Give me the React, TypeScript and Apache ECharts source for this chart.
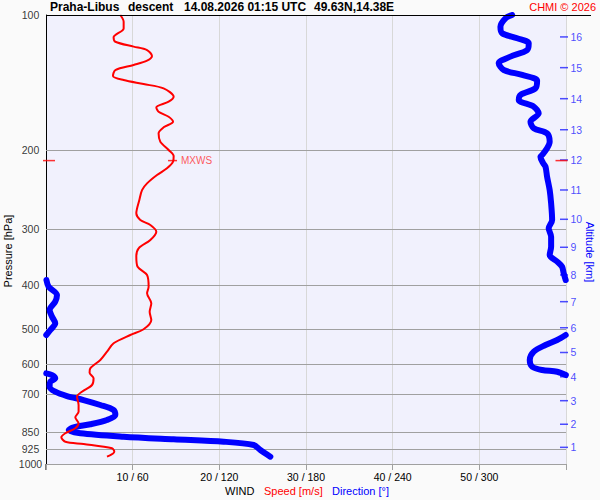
import { useEffect, useRef } from 'react'
import * as echarts from 'echarts'

// pressure levels drawn as horizontal lines [hPa]
const pressureLevels = [100, 200, 300, 400, 500, 600, 700, 850, 925, 1000]

// altitude scale on the right (km) and the pressure at which each tick sits
const altitudeKm = [16, 15, 14, 13, 12, 11, 10, 9, 8, 7, 6, 5, 4, 3, 2, 1]
const altitudePressure = [111.9, 131.0, 153.6, 180.1, 210.3, 245.3, 285.1, 329.1, 379.3, 435.0, 497.2, 564.5, 639.3, 722.8, 815.6, 918.1]

// wind speed profile [m/s] vs pressure [hPa]
const speedPressure = [
  100, 103.5, 107.1, 112.1, 114.7, 117.6, 119.7, 123.4, 126.4, 129.2, 132.6, 136.7, 139.6, 142.5, 145.7,
  152.1, 156.0, 160.6, 164.2, 168.5, 172.9, 177.9, 183.5, 191.5, 199.8, 206.1, 212.2, 219.5, 227.2, 237.1,
  245.4, 258.2, 276.5, 286.1, 293.6, 303.9, 317.1, 330.8, 345.4, 363.6, 379.4, 402.9, 416.8, 438.7, 458.0,
  477.9, 501.2, 516.0, 538.5, 562.2, 586.7, 612.2, 626.1, 644.3, 666.9, 690.2, 708.1, 738.9, 764.7, 787.0,
  811.6, 832.6, 854.2, 872.0, 891.9, 902.6, 922.6, 938.8, 963.2
]
const speedValues = [
  8.57, 8.96, 8.96, 7.8, 8.0, 10.11, 11.66, 12.23, 11.66, 10.11, 8.0, 7.73, 8.96, 11.26, 13.57,
  14.73, 14.15, 12.73, 12.99, 14.15, 14.66, 13.57, 12.99, 13.19, 14.15, 14.73, 14.66, 13.96, 12.81, 11.66,
  11.08, 10.77, 10.42, 10.88, 12.04, 12.73, 12.04, 10.69, 10.42, 10.57, 11.66, 11.84, 11.66, 12.15, 11.96,
  12.15, 11.26, 9.73, 7.8, 7.04, 6.27, 5.11, 5.03, 5.49, 5.31, 4.15, 3.58, 3.76, 3.76, 3.38,
  3.76, 3.38, 2.23, 1.77, 2.23, 4.34, 7.62, 7.88, 7.04
]

// wind direction profile [deg] vs pressure [hPa]; null = wrap 360 -> 0
const dirPressure = [
  100, 101.7, 106.2, 109.8, 112.7, 115.6, 119.7, 123.8, 128.1, 132.6, 136.0, 140.1, 145.7, 150.7, 154.6,
  160.0, 165.6, 172.9, 178.8, 183.5, 191.5, 198.1, 205.0, 206.8, 213.9, 217.7, 229.2, 245.4, 262.7, 286.1,
  298.6, 311.7, 328.1, 342.3, 354.3, 363.6, 376.1, 389.3, null,
  389.3, 402.9, 420.4, 435.0, 454.0, 469.9, 486.1, 503.0, 516.0, null,
  516.0, 529.4, 543.3, 562.2, 586.7, 607.2, 617.5, 622.9, 633.7, null,
  628.1, 633.7, 644.3, 655.6, 672.6, 690.2, 705.7, 720.3, 738.9, 758.0, 777.9, 798.0, 815.8, 828.5, 840.1,
  854.2, 869.4, 881.0, 891.9, 907.3, 930.7, 963.2
]
const dirValues = [
  322.7, 318.1, 314.6, 315.8, 326.2, 334.2, 333.1, 321.5, 313.4, 316.9, 329.6, 340.0, 338.8, 328.5, 327.3,
  337.7, 341.1, 335.4, 337.7, 346.9, 348.7, 346.9, 343.5, 342.3, 344.2, 345.8, 346.9, 348.7, 349.7, 350.4,
  348.0, 349.7, 349.7, 348.7, 353.9, 357.3, 358.4, 359.8, null,
  0.3, 1.8, 7.6, 6.4, 2.5, 4.2, 6.4, 3.0, 0.2, null,
  359.8, 353.9, 345.8, 337.7, 334.9, 336.6, 343.5, 353.9, 359.9, null,
  0.2, 4.2, 6.4, 3.0, 2.5, 6.4, 14.5, 26.0, 37.6, 46.8, 48.0, 42.2, 30.7, 19.1, 15.7,
  23.8, 53.7, 88.4, 123.0, 143.8, 148.4, 155.3
]

const mxwsPressure = 211
const mxwsSpeed = 14.6

const FONT = '"Liberation Sans", Arial, sans-serif'

function dirSegments() {
  const segs: number[][][] = []
  let cur: number[][] = []
  dirValues.forEach((d, i) => {
    const p = dirPressure[i]
    if (d === null || p === null) {
      if (cur.length) segs.push(cur)
      cur = []
    } else {
      cur.push([d, p])
    }
  })
  if (cur.length) segs.push(cur)
  return segs
}

export default function App() {
  const chartRef = useRef<HTMLDivElement>(null)

  useEffect(() => {
    if (!chartRef.current) return
    const chart = echarts.init(chartRef.current, null, { renderer: 'svg' })

    const dirSeries = dirSegments().map((seg) => ({
      type: 'line',
      xAxisIndex: 1,
      data: seg,
      showSymbol: false,
      symbol: 'none',
      smooth: 0.3,
      z: 3,
      lineStyle: { color: '#0000ff', width: 6, cap: 'round', join: 'round' }
    }))

    const option = {
      animation: false,
      backgroundColor: '#fafafa',
      textStyle: { fontFamily: FONT },
      grid: {
        left: 46,
        top: 15,
        width: 520,
        height: 449,
        show: true,
        backgroundColor: '#f1f1fd',
        borderWidth: 0
      },
      xAxis: [
        {
          type: 'value',
          min: 0,
          max: 60,
          interval: 10,
          axisLine: { show: false },
          axisTick: { show: true, length: 6, lineStyle: { color: '#a0a0a0' } },
          axisLabel: {
            color: '#000',
            fontSize: 10.5,
            fontFamily: FONT,
            margin: 7,
            formatter: (v: number) => (v === 0 || v === 60 ? '' : `${v} / ${v * 6}`)
          },
          splitLine: { show: true, lineStyle: { color: '#d8d8d8', width: 1 } }
        },
        {
          type: 'value',
          min: 0,
          max: 360,
          show: false
        }
      ],
      yAxis: {
        type: 'log',
        logBase: 10,
        min: 100,
        max: 1000,
        inverse: true,
        axisLine: { show: true, lineStyle: { color: '#000', width: 1 } },
        axisTick: { show: false },
        axisLabel: { show: false },
        splitLine: { show: false }
      },
      graphic: [
        { type: 'line', shape: { x1: 46, y1: 15.5, x2: 591, y2: 15.5 }, style: { stroke: '#000', lineWidth: 1 }, z: 10 },
        { type: 'line', shape: { x1: 46, y1: 464, x2: 46, y2: 470 }, style: { stroke: '#000', lineWidth: 1 } },
        { type: 'text', x: 50, y: 7, style: { text: 'Praha-Libus', font: `bold 12px ${FONT}`, fill: '#000', verticalAlign: 'middle' } },
        { type: 'text', x: 128, y: 7, style: { text: 'descent', font: `bold 12px ${FONT}`, fill: '#000', verticalAlign: 'middle' } },
        { type: 'text', x: 184, y: 7, style: { text: '14.08.2026 01:15 UTC', font: `bold 12px ${FONT}`, fill: '#000', verticalAlign: 'middle' } },
        { type: 'text', x: 314, y: 7, style: { text: '49.63N,14.38E', font: `bold 12px ${FONT}`, fill: '#000', verticalAlign: 'middle' } },
        { type: 'text', x: 596, y: 7, style: { text: 'CHMI © 2026', font: `11px ${FONT}`, fill: '#ff0000', align: 'right', verticalAlign: 'middle' } },
        { type: 'text', x: 225, y: 491, style: { text: 'WIND', font: `11px ${FONT}`, fill: '#000', verticalAlign: 'middle' } },
        { type: 'text', x: 264, y: 491, style: { text: 'Speed [m/s]', font: `11px ${FONT}`, fill: '#ff0000', verticalAlign: 'middle' } },
        { type: 'text', x: 332, y: 491, style: { text: 'Direction [°]', font: `11px ${FONT}`, fill: '#0000ff', verticalAlign: 'middle' } },
        { type: 'text', x: 8, y: 251, rotation: Math.PI / 2, style: { text: 'Pressure [hPa]', font: `11px ${FONT}`, fill: '#000', align: 'center', verticalAlign: 'middle' } },
        { type: 'text', x: 590, y: 252, rotation: -Math.PI / 2, style: { text: 'Altitude [km]', font: `11px ${FONT}`, fill: '#0000ff', align: 'center', verticalAlign: 'middle' } }
      ],
      series: [
        {
          // pressure grid lines
          type: 'line',
          data: [],
          z: 1,
          markLine: {
            silent: true,
            symbol: 'none',
            z: 1,
            label: { show: false },
            lineStyle: { color: '#a0a0a0', width: 1, type: 'solid' },
            data: pressureLevels.filter((p) => p !== 100).map((p) => ({ yAxis: p }))
          }
        },
        {
          // pressure labels
          type: 'scatter',
          data: pressureLevels.map((p) => [0, p]),
          symbolSize: 0,
          clip: false,
          silent: true,
          label: {
            show: true,
            position: 'left',
            distance: 15.5,
            align: 'center',
            verticalAlign: 'middle',
            color: '#000',
            fontSize: 10.5,
            fontFamily: FONT,
            formatter: (d: any) => String(d.value[1])
          }
        },
        ...dirSeries,
        {
          type: 'line',
          data: speedValues.map((s, i) => [s, speedPressure[i]]),
          showSymbol: false,
          symbol: 'none',
          smooth: 0.3,
          z: 4,
          lineStyle: { color: '#ff0000', width: 2, join: 'round' }
        },
        {
          // altitude ticks on the right
          type: 'scatter',
          data: altitudePressure.map((p) => [60, p]),
          symbol: 'rect',
          symbolSize: [8, 1.5],
          symbolOffset: [-2, 0],
          clip: false,
          silent: true,
          itemStyle: { color: '#2020ff' },
          label: {
            show: true,
            position: 'right',
            distance: 2.5,
            color: '#2020ff',
            fontSize: 10.5,
            fontFamily: FONT,
            formatter: (d: any) => String(altitudeKm[d.dataIndex])
          }
        },
        {
          // maximum wind speed marker
          type: 'scatter',
          z: 5,
          clip: false,
          silent: true,
          symbol: 'rect',
          itemStyle: { color: '#ff0000' },
          data: [
            {
              value: [mxwsSpeed, mxwsPressure],
              symbolSize: [9, 1.5],
              label: {
                show: true,
                position: 'right',
                distance: 4,
                color: '#ff3030',
                fontSize: 10,
                fontFamily: FONT,
                formatter: 'MXWS'
              }
            },
            { value: [0, mxwsPressure], symbolSize: [12, 1.5], symbolOffset: [3, 0] },
            { value: [60, mxwsPressure], symbolSize: [12, 1.5], symbolOffset: [-4.5, 0] }
          ]
        }
      ]
    }

    chart.setOption(option as any)

    const handleResize = () => chart.resize()
    window.addEventListener('resize', handleResize)
    return () => {
      window.removeEventListener('resize', handleResize)
      chart.dispose()
    }
  }, [])

  return (
    <div
      ref={chartRef}
      style={{ position: 'absolute', left: 0, top: 0, width: 600, height: 500 }}
    />
  )
}
